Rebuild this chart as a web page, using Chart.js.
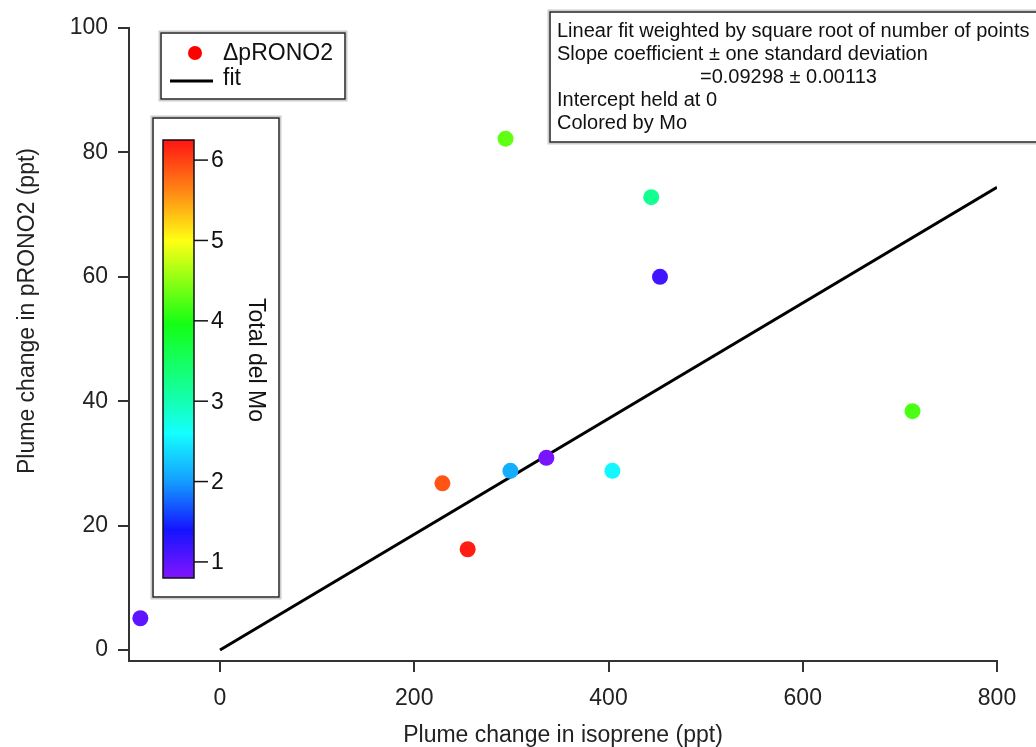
<!DOCTYPE html>
<html>
<head>
<meta charset="utf-8">
<script src="https://cdn.jsdelivr.net/npm/chart.js@4/dist/chart.umd.min.js"></script>
<style>
  html, body { margin: 0; padding: 0; background: #fff; }
  #wrap { width: 1036px; height: 747px; position: relative; }
</style>
</head>
<body>
<div id="wrap"><canvas id="chart"></canvas></div>
<script>
// data
const isoprene = [-82, 229, 255, 299, 294, 336, 404, 444, 453, 713];
const prono2   = [5.1, 26.8, 16.2, 28.8, 82.2, 30.9, 28.8, 72.8, 60.0, 38.4];
const totalMo  = [1.0, 5.9, 6.2, 2.1, 4.3, 0.85, 2.55, 3.2, 1.15, 4.2];
const fitSlope = 0.09298;
const fitRange = [0, 800];
const xTicks = [0, 200, 400, 600, 800];
const yTicks = [0, 20, 40, 60, 80, 100];
const moTicks = [1, 2, 3, 4, 5, 6];
const moRange = [0.8, 6.25];
const infoLines = [
    'Linear fit weighted by square root of number of points',
    'Slope coefficient \u00b1 one standard deviation',
    '=0.09298 \u00b1 0.00113',
    'Intercept held at 0',
    'Colored by Mo'
];

// rainbow colour table: [value, hue]
const hueStops = [[0.8, 268], [1.4, 240], [2, 205], [2.6, 180], [3, 160], [4, 118], [5, 60], [5.6, 30], [6.25, 0]];
const moColor = (v) => {
    let h = hueStops[0][1];
    if (v >= hueStops[hueStops.length - 1][0]) h = hueStops[hueStops.length - 1][1];
    for (let i = 0; i < hueStops.length - 1; i++) {
        const a = hueStops[i], b = hueStops[i + 1];
        if (v >= a[0] && v <= b[0]) {
            h = a[1] + (b[1] - a[1]) * (v - a[0]) / (b[0] - a[0]);
        }
    }
    return `hsl(${h.toFixed(1)}, 100%, 54%)`;
};

const FONT = "'Liberation Sans', Arial, sans-serif";
const points = isoprene.map((x, i) => ({x: x, y: prono2[i]}));

const overlays = {
    id: 'overlays',
    afterDraw: (chart) => {
        const ctx = chart.ctx;
        ctx.save();

        // y axis title (sits above the axis middle in the original)
        ctx.fillStyle = '#222';
        ctx.font = `23px ${FONT}`;
        ctx.textAlign = 'center';
        ctx.textBaseline = 'middle';
        ctx.save();
        ctx.translate(28, 311);
        ctx.rotate(-Math.PI / 2);
        ctx.fillText('Plume change in pRONO2 (ppt)', 0, 0);
        ctx.restore();

        // legend box
        ctx.fillStyle = '#fff';
        ctx.strokeStyle = '#ccc';
        ctx.lineWidth = 3;
        ctx.strokeRect(160, 32, 186, 68);
        ctx.fillRect(160, 32, 186, 68);
        ctx.strokeStyle = '#222';
        ctx.lineWidth = 1.5;
        ctx.strokeRect(161, 33, 184, 66);
        ctx.fillStyle = '#ff0000';
        ctx.beginPath();
        ctx.arc(195, 53, 7, 0, Math.PI * 2);
        ctx.fill();
        ctx.strokeStyle = '#000';
        ctx.lineWidth = 3;
        ctx.beginPath();
        ctx.moveTo(170, 81);
        ctx.lineTo(213, 81);
        ctx.stroke();
        ctx.fillStyle = '#111';
        ctx.font = `23px ${FONT}`;
        ctx.textAlign = 'left';
        ctx.textBaseline = 'middle';
        ctx.fillText('\u0394pRONO2', 223, 54);
        ctx.fillText('fit', 223, 79);

        // colour bar
        ctx.fillStyle = '#fff';
        ctx.strokeStyle = '#ccc';
        ctx.lineWidth = 3;
        ctx.strokeRect(152, 117, 128, 481);
        ctx.fillRect(152, 117, 128, 481);
        ctx.strokeStyle = '#222';
        ctx.lineWidth = 1.5;
        ctx.strokeRect(153, 118, 126, 479);
        const barTop = 140, barBot = 578, barL = 163, barR = 194;
        const vy = (v) => barBot - (v - moRange[0]) / (moRange[1] - moRange[0]) * (barBot - barTop);
        for (let y = barTop; y < barBot; y++) {
            const v = moRange[0] + (barBot - y - 0.5) / (barBot - barTop) * (moRange[1] - moRange[0]);
            ctx.fillStyle = moColor(v);
            ctx.fillRect(barL, y, barR - barL, 1);
        }
        ctx.strokeStyle = '#111';
        ctx.lineWidth = 1.5;
        ctx.strokeRect(barL, barTop, barR - barL, barBot - barTop);
        ctx.fillStyle = '#111';
        ctx.font = `23px ${FONT}`;
        ctx.textBaseline = 'middle';
        moTicks.forEach(t => {
            const y = vy(t);
            ctx.beginPath();
            ctx.moveTo(barR, y);
            ctx.lineTo(barR + 14, y);
            ctx.stroke();
            ctx.fillText(String(t), barR + 17, y + 1);
        });
        ctx.save();
        ctx.translate(255, 360);
        ctx.rotate(Math.PI / 2);
        ctx.textAlign = 'center';
        ctx.fillText('Total del Mo', 0, 0);
        ctx.restore();

        // fit info box
        ctx.fillStyle = '#fff';
        ctx.strokeStyle = '#ccc';
        ctx.lineWidth = 3;
        ctx.strokeRect(549, 11, 500, 132);
        ctx.fillRect(549, 11, 500, 132);
        ctx.strokeStyle = '#222';
        ctx.lineWidth = 1.5;
        ctx.strokeRect(550, 12, 498, 130);
        ctx.fillStyle = '#111';
        ctx.font = `20px ${FONT}`;
        ctx.textAlign = 'left';
        infoLines.forEach((line, i) => {
            const x = i === 2 ? 700 : 557;
            ctx.fillText(line, x, 31 + i * 23);
        });

        ctx.restore();
    }
};

new Chart(document.getElementById('chart'), {
    type: 'scatter',
    data: {
        datasets: [
            {
                label: '\u0394pRONO2',
                data: points,
                pointRadius: 8,
                pointHoverRadius: 8,
                pointBorderWidth: 0,
                pointBackgroundColor: totalMo.map(moColor),
                order: 1
            },
            {
                type: 'line',
                label: 'fit',
                data: fitRange.map(x => ({x: x, y: x * fitSlope})),
                borderColor: '#000',
                borderWidth: 3,
                pointRadius: 0,
                fill: false,
                order: 2
            }
        ]
    },
    plugins: [overlays],
    options: {
        responsive: true,
        maintainAspectRatio: false,
        animation: false,
        layout: {padding: {top: 28, right: 39, left: 0, bottom: 0}},
        plugins: {
            legend: {display: false},
            tooltip: {enabled: false}
        },
        scales: {
            x: {
                type: 'linear',
                min: -93.7,
                max: 800,
                afterBuildTicks: (s) => { s.ticks = xTicks.map(v => ({value: v})); },
                afterFit: (s) => { s.height = 86; },
                grid: {drawOnChartArea: false, drawTicks: true, tickLength: 11, color: '#333', lineWidth: 2},
                border: {display: true, color: '#333', width: 2},
                ticks: {color: '#222', font: {family: FONT, size: 23}, padding: 13, maxRotation: 0},
                title: {display: true, text: 'Plume change in isoprene (ppt)', color: '#222',
                    font: {family: FONT, size: 23}, padding: {top: 0, bottom: -2}}
            },
            y: {
                type: 'linear',
                min: -1.77,
                max: 100,
                afterBuildTicks: (s) => { s.ticks = yTicks.map(v => ({value: v})); },
                afterFit: (s) => { s.width = 129; },
                grid: {drawOnChartArea: false, drawTicks: true, tickLength: 11, color: '#333', lineWidth: 2},
                border: {display: true, color: '#333', width: 2},
                ticks: {color: '#222', font: {family: FONT, size: 23}, padding: 10},
                title: {display: false}
            }
        }
    }
});
</script>
</body>
</html>
